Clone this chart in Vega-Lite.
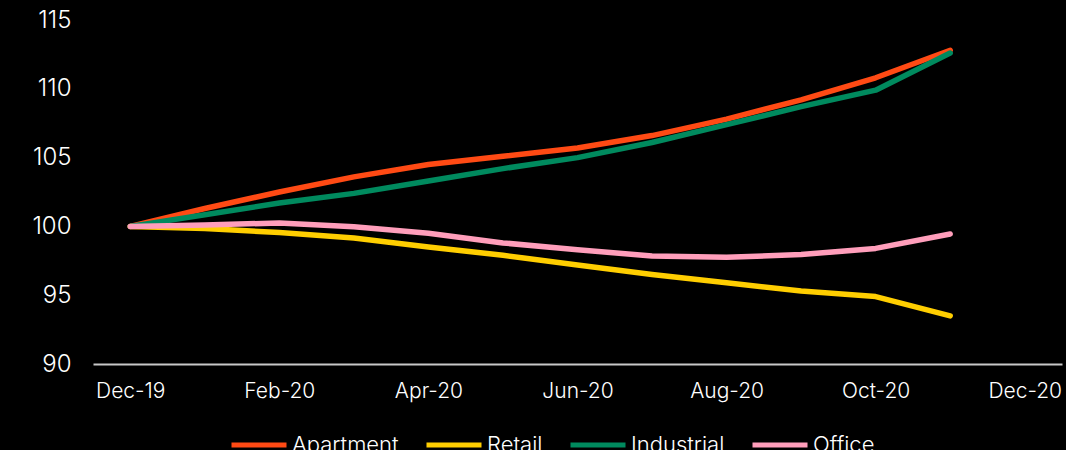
{
  "$schema": "https://vega.github.io/schema/vega-lite/v6.json",
  "width": 969,
  "height": 344,
  "autosize": {"type": "none"},
  "padding": {"left": 93, "top": 20, "right": 4, "bottom": 86},
  "background": "#000000",
  "config": {
    "view": {"stroke": null},
    "font": "Inter"
  },
  "data": {
    "values": [
      {"month": "Dec-19", "type": "Apartment", "value": 100},
      {"month": "Jan-20", "type": "Apartment", "value": 101.3},
      {"month": "Feb-20", "type": "Apartment", "value": 102.5},
      {"month": "Mar-20", "type": "Apartment", "value": 103.6},
      {"month": "Apr-20", "type": "Apartment", "value": 104.5},
      {"month": "May-20", "type": "Apartment", "value": 105.1},
      {"month": "Jun-20", "type": "Apartment", "value": 105.7},
      {"month": "Jul-20", "type": "Apartment", "value": 106.6},
      {"month": "Aug-20", "type": "Apartment", "value": 107.8},
      {"month": "Sep-20", "type": "Apartment", "value": 109.2},
      {"month": "Oct-20", "type": "Apartment", "value": 110.8},
      {"month": "Nov-20", "type": "Apartment", "value": 112.8},
      {"month": "Dec-19", "type": "Retail", "value": 100},
      {"month": "Jan-20", "type": "Retail", "value": 99.85},
      {"month": "Feb-20", "type": "Retail", "value": 99.55},
      {"month": "Mar-20", "type": "Retail", "value": 99.15},
      {"month": "Apr-20", "type": "Retail", "value": 98.5},
      {"month": "May-20", "type": "Retail", "value": 97.9},
      {"month": "Jun-20", "type": "Retail", "value": 97.2},
      {"month": "Jul-20", "type": "Retail", "value": 96.5},
      {"month": "Aug-20", "type": "Retail", "value": 95.9},
      {"month": "Sep-20", "type": "Retail", "value": 95.3},
      {"month": "Oct-20", "type": "Retail", "value": 94.9},
      {"month": "Nov-20", "type": "Retail", "value": 93.5},
      {"month": "Dec-19", "type": "Industrial", "value": 100},
      {"month": "Jan-20", "type": "Industrial", "value": 100.85},
      {"month": "Feb-20", "type": "Industrial", "value": 101.7},
      {"month": "Mar-20", "type": "Industrial", "value": 102.4},
      {"month": "Apr-20", "type": "Industrial", "value": 103.3},
      {"month": "May-20", "type": "Industrial", "value": 104.2},
      {"month": "Jun-20", "type": "Industrial", "value": 105.0},
      {"month": "Jul-20", "type": "Industrial", "value": 106.1},
      {"month": "Aug-20", "type": "Industrial", "value": 107.4},
      {"month": "Sep-20", "type": "Industrial", "value": 108.7},
      {"month": "Oct-20", "type": "Industrial", "value": 109.9},
      {"month": "Nov-20", "type": "Industrial", "value": 112.6},
      {"month": "Dec-19", "type": "Office", "value": 100},
      {"month": "Jan-20", "type": "Office", "value": 100.1},
      {"month": "Feb-20", "type": "Office", "value": 100.25},
      {"month": "Mar-20", "type": "Office", "value": 99.97},
      {"month": "Apr-20", "type": "Office", "value": 99.5},
      {"month": "May-20", "type": "Office", "value": 98.8},
      {"month": "Jun-20", "type": "Office", "value": 98.3},
      {"month": "Jul-20", "type": "Office", "value": 97.85},
      {"month": "Aug-20", "type": "Office", "value": 97.75},
      {"month": "Sep-20", "type": "Office", "value": 97.95},
      {"month": "Oct-20", "type": "Office", "value": 98.4},
      {"month": "Nov-20", "type": "Office", "value": 99.45}
    ]
  },
  "mark": {"type": "line", "strokeWidth": 5.5, "strokeCap": "round", "strokeJoin": "round"},
  "encoding": {
    "x": {
      "field": "month",
      "type": "ordinal",
      "scale": {
        "type": "point",
        "padding": 0.5,
        "domain": ["Dec-19","Jan-20","Feb-20","Mar-20","Apr-20","May-20","Jun-20","Jul-20","Aug-20","Sep-20","Oct-20","Nov-20","Dec-20"]
      },
      "axis": {
        "title": null,
        "values": ["Dec-19","Feb-20","Apr-20","Jun-20","Aug-20","Oct-20","Dec-20"],
        "labelAngle": 0,
        "labelColor": "#ffffff",
        "labelFontSize": 21,
        "labelFontWeight": 300,
        "labelPadding": 16,
        "ticks": false,
        "tickSize": 0,
        "grid": false,
        "domainColor": "#c8c8c8",
        "domainWidth": 2
      }
    },
    "y": {
      "field": "value",
      "type": "quantitative",
      "scale": {"domain": [90, 115], "nice": false, "zero": false},
      "axis": {
        "title": null,
        "values": [90, 95, 100, 105, 110, 115],
        "labelColor": "#ffffff",
        "labelFontSize": 24,
        "labelFontWeight": 300,
        "labelPadding": 22,
        "ticks": false,
        "tickSize": 0,
        "domain": false,
        "grid": false
      }
    },
    "color": {
      "field": "type",
      "type": "nominal",
      "scale": {
        "domain": ["Apartment", "Retail", "Industrial", "Office"],
        "range": ["#ff4a14", "#ffce00", "#008a5e", "#ff9ebb"]
      },
      "legend": {
        "title": null,
        "orient": "none",
        "direction": "horizontal",
        "legendX": 136,
        "legendY": 395,
        "symbolType": "stroke",
        "symbolSize": 3025,
        "symbolStrokeWidth": 5,
        "labelColor": "#ffffff",
        "labelFontSize": 22,
        "labelFontWeight": 300,
        "labelOffset": 3,
        "columnPadding": 17
      }
    }
  }
}
